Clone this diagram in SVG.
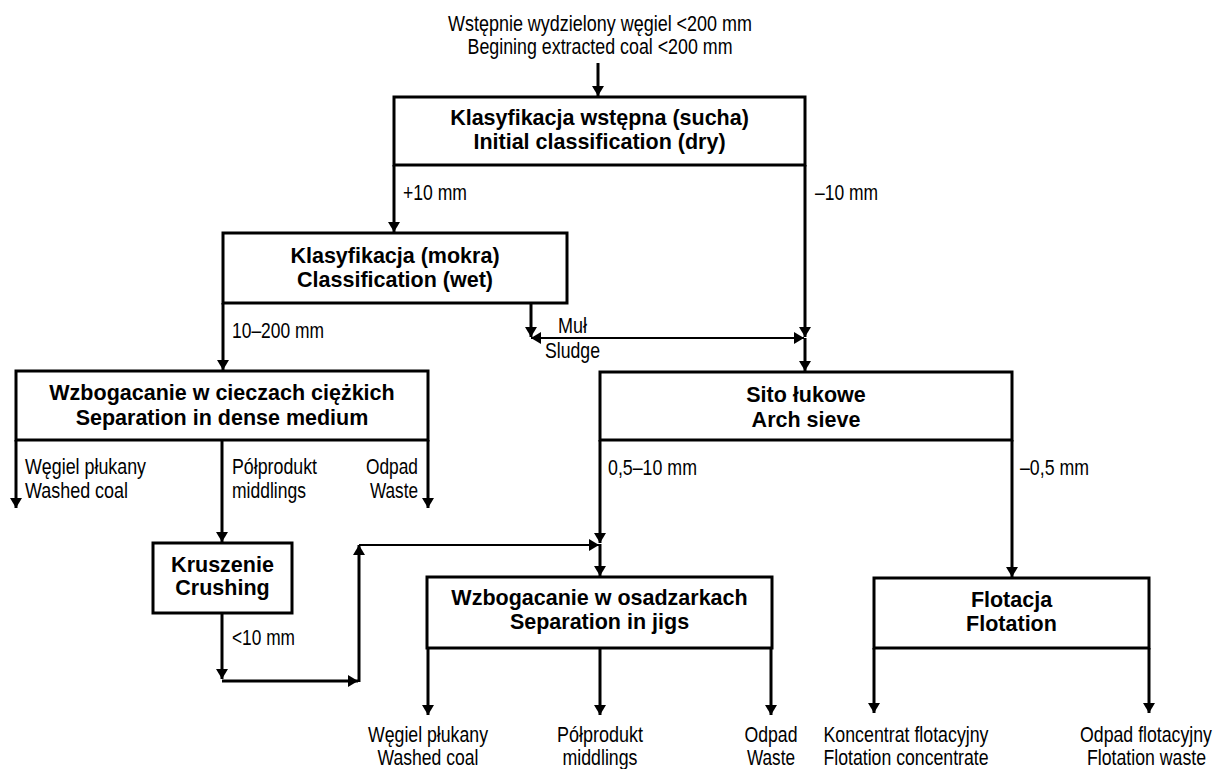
<svg xmlns="http://www.w3.org/2000/svg" width="1219" height="769" viewBox="0 0 1219 769">
<style>
.box{fill:#fff;stroke:#000;stroke-width:3}
.b{font-family:"Liberation Sans",Arial,sans-serif;font-weight:bold;font-size:21.5px;fill:#000;text-anchor:middle}
.n{font-family:"Liberation Sans",Arial,sans-serif;font-size:22px;fill:#000}
.m{text-anchor:middle}
.e{text-anchor:end}
.c{fill:none;stroke:#000;stroke-width:3}
.t{stroke-width:2}
.a{marker-end:url(#arr)}
</style>
<defs>
<marker id="arr" markerUnits="userSpaceOnUse" markerWidth="12" markerHeight="12" refX="10" refY="6" orient="auto-start-reverse">
<path d="M0,0 L10,6 L0,12 z" fill="#000"/>
</marker>
</defs>
<rect width="1219" height="769" fill="#fff"/>
<g id="connectors">
<path class="c a" d="M598,63 V96"/>
<path class="c a" d="M394,165 V232"/>
<path class="c a" d="M805,165 V337"/>
<path class="c a" d="M805,338 V371"/>
<path class="c a" d="M531,303 V337"/>
<path class="c t a" d="M531,338 H804" style="marker-start:url(#arr)"/>
<path class="c a" d="M223,303 V370"/>
<path class="c a" d="M16,440 V508"/>
<path class="c a" d="M222,440 V542"/>
<path class="c a" d="M428,440 V508"/>
<path class="c a" d="M222,613 V679"/>
<path class="c a" d="M222,681 H358"/>
<path class="c a" d="M359,682 V545"/>
<path class="c t a" d="M359,545 H599"/>
<path class="c a" d="M600,440 V543"/>
<path class="c a" d="M600,544 V576"/>
<path class="c a" d="M1012,440 V577"/>
<path class="c a" d="M428,648 V715"/>
<path class="c a" d="M600,648 V715"/>
<path class="c a" d="M771,648 V715"/>
<path class="c a" d="M874,648 V713"/>
<path class="c a" d="M1149,648 V713"/>
</g>
<g id="input">
<text class="n m" x="600" y="31" textLength="304" lengthAdjust="spacingAndGlyphs">Wstępnie wydzielony węgiel &lt;200 mm</text>
<text class="n m" x="600" y="54" textLength="265" lengthAdjust="spacingAndGlyphs">Begining extracted coal &lt;200 mm</text>
</g>
<g id="n1">
<rect class="box" x="394" y="97" width="411" height="68"/>
<text class="b" x="599.5" y="125">Klasyfikacja wstępna (sucha)</text>
<text class="b" x="599.5" y="149">Initial classification (dry)</text>
</g>
<g id="n2">
<rect class="box" x="223" y="233" width="344" height="70"/>
<text class="b" x="395" y="263">Klasyfikacja (mokra)</text>
<text class="b" x="395" y="287">Classification (wet)</text>
</g>
<g id="n3">
<rect class="box" x="16" y="371" width="412" height="69"/>
<text class="b" x="222" y="400">Wzbogacanie w cieczach ciężkich</text>
<text class="b" x="222" y="425">Separation in dense medium</text>
</g>
<g id="n4">
<rect class="box" x="600" y="372" width="412" height="68"/>
<text class="b" x="806" y="402">Sito łukowe</text>
<text class="b" x="806" y="427">Arch sieve</text>
</g>
<g id="n5">
<rect class="box" x="153" y="543" width="139" height="70"/>
<text class="b" x="222.5" y="572">Kruszenie</text>
<text class="b" x="222.5" y="595">Crushing</text>
</g>
<g id="n6">
<rect class="box" x="427" y="577" width="345" height="71"/>
<text class="b" x="599.5" y="605">Wzbogacanie w osadzarkach</text>
<text class="b" x="599.5" y="629">Separation in jigs</text>
</g>
<g id="n7">
<rect class="box" x="874" y="578" width="275" height="70"/>
<text class="b" x="1011.5" y="607">Flotacja</text>
<text class="b" x="1011.5" y="631">Flotation</text>
</g>
<g id="labels">
<text class="n" x="403" y="200" textLength="64" lengthAdjust="spacingAndGlyphs">+10 mm</text>
<text class="n" x="815" y="200" textLength="63" lengthAdjust="spacingAndGlyphs">–10 mm</text>
<text class="n" x="232" y="338" textLength="92" lengthAdjust="spacingAndGlyphs">10–200 mm</text>
<text class="n" x="558" y="333" textLength="29" lengthAdjust="spacingAndGlyphs">Muł</text>
<text class="n" x="545" y="358" textLength="55" lengthAdjust="spacingAndGlyphs">Sludge</text>
<text class="n" x="25" y="474" textLength="121" lengthAdjust="spacingAndGlyphs">Węgiel płukany</text>
<text class="n" x="25" y="498" textLength="103" lengthAdjust="spacingAndGlyphs">Washed coal</text>
<text class="n" x="232" y="474" textLength="85" lengthAdjust="spacingAndGlyphs">Półprodukt</text>
<text class="n" x="232" y="498" textLength="74" lengthAdjust="spacingAndGlyphs">middlings</text>
<text class="n e" x="418" y="474" textLength="52" lengthAdjust="spacingAndGlyphs">Odpad</text>
<text class="n e" x="418" y="498" textLength="48" lengthAdjust="spacingAndGlyphs">Waste</text>
<text class="n" x="232" y="645" textLength="63" lengthAdjust="spacingAndGlyphs">&lt;10 mm</text>
<text class="n" x="608" y="475" textLength="89" lengthAdjust="spacingAndGlyphs">0,5–10 mm</text>
<text class="n" x="1020" y="475" textLength="69" lengthAdjust="spacingAndGlyphs">–0,5 mm</text>
<text class="n m" x="428" y="742" textLength="120" lengthAdjust="spacingAndGlyphs">Węgiel płukany</text>
<text class="n m" x="428" y="765" textLength="101" lengthAdjust="spacingAndGlyphs">Washed coal</text>
<text class="n m" x="600" y="742" textLength="86" lengthAdjust="spacingAndGlyphs">Półprodukt</text>
<text class="n m" x="600" y="765" textLength="75" lengthAdjust="spacingAndGlyphs">middlings</text>
<text class="n m" x="771" y="742" textLength="53" lengthAdjust="spacingAndGlyphs">Odpad</text>
<text class="n m" x="771" y="765" textLength="48" lengthAdjust="spacingAndGlyphs">Waste</text>
<text class="n m" x="906" y="742" textLength="165" lengthAdjust="spacingAndGlyphs">Koncentrat flotacyjny</text>
<text class="n m" x="906" y="765" textLength="165" lengthAdjust="spacingAndGlyphs">Flotation concentrate</text>
<text class="n m" transform="translate(1146,742) scale(0.805,1)">Odpad flotacyjny</text>
<text class="n m" transform="translate(1146.5,765) scale(0.805,1)">Flotation waste</text>
</g>
</svg>
